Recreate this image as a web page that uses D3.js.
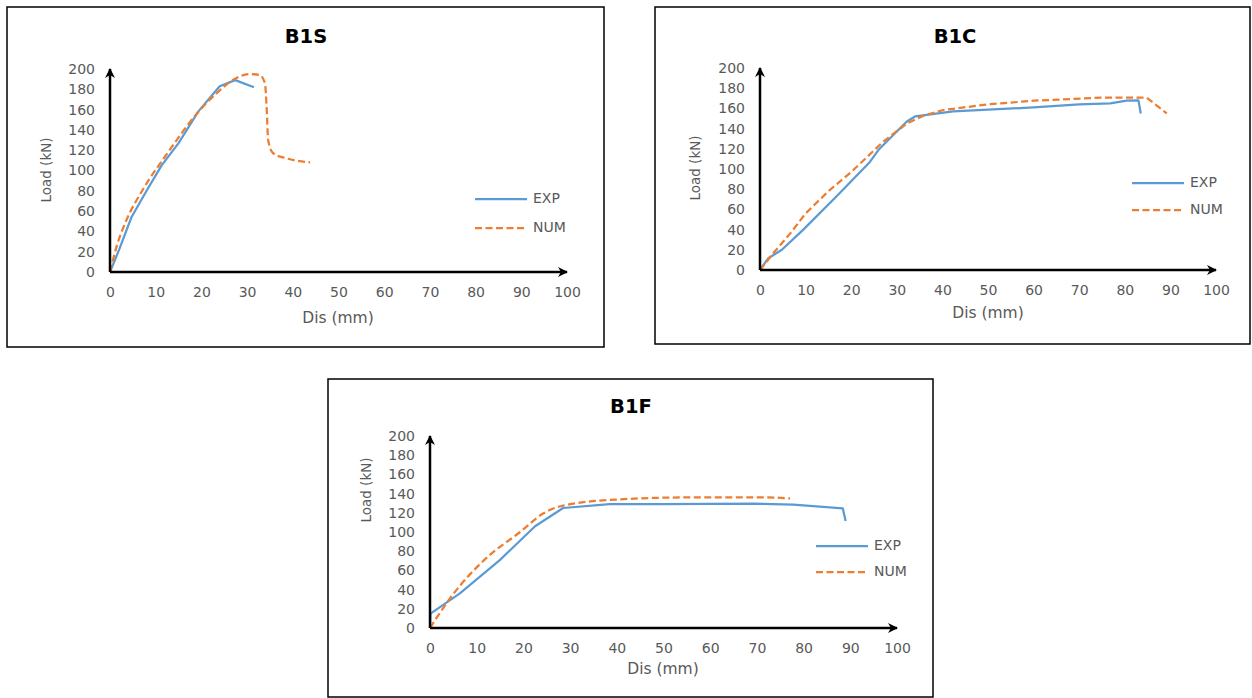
<!DOCTYPE html>
<html><head><meta charset="utf-8">
<script src="https://cdn.jsdelivr.net/npm/d3@7"></script>
<style>body{margin:0;background:#fff}svg{display:block}</style>
</head><body>
<script>
// ---- data ----
const xTicks = [0,10,20,30,40,50,60,70,80,90,100];
const yTicks = [0,20,40,60,80,100,120,140,160,180,200];
const seriesNames = ["EXP","NUM"];
const titles = ["B1S","B1C","B1F"];

const b1sExp = [[0,0],[2,22],[4.7,54],[8,80],[11.3,105],[15,127],[19.3,158],[24,183],[27.4,189],[31.5,182]];
const b1sNum = [[0,0],[1.5,26],[3.3,48],[7.3,82],[12.4,116],[19,156],[23.3,176],[27.4,190.5],[30.6,195],[32.8,194],[33.9,186],[34.3,160],[34.6,130],[35.7,117],[38.6,112],[43.8,108]];

const b1cExp = [[0,0],[1.8,11.6],[4.8,20],[9.5,40],[16.8,73],[24.1,107],[26,119],[32.2,147],[34,152],[42.4,157],[60,161],[70,164],[76.8,165],[80.4,167.6],[83,168],[83.5,155]];
const b1cNum = [[0,0],[2.9,16.5],[6.6,36],[10,56],[15,78],[20,97],[27,127],[32.2,145],[36,153],[40.2,158.4],[50,164],[60,167.6],[74.6,170.6],[84.8,170.6],[89.2,155]];

const b1fExp = [[0,0],[0.1,15],[6.4,36],[15,71],[22.5,106],[28.5,125],[38.5,129],[50,129],[69.2,129.5],[77.8,128.5],[88.4,124.5],[89,111.5]];
const b1fNum = [[0,0],[4.3,31],[12.1,73],[19.3,100],[24.3,119.5],[28.5,127.5],[40.7,134],[55,136],[72,136],[77.1,135]];

const panelData = [[b1sExp,b1sNum],[b1cExp,b1cNum],[b1fExp,b1fNum]];

// ---- layout ----
const layout = [
  {box:[7,7,604,347], x0:110, x1:567, y0:272, y1:69, tx:306, ty:37, lx:475, ly:199, lg:29, ylx:47, yly:170, dx:338, dy:318, smooth:true},
  {box:[655,7,1250,344], x0:760, x1:1216, y0:270, y1:68, tx:955, ty:37, lx:1132, ly:183, lg:27, ylx:696, yly:168, dx:988, dy:313, smooth:false},
  {box:[328,379,933,697], x0:430, x1:897, y0:628, y1:436, tx:631, ty:407, lx:816, ly:546, lg:26, ylx:367, yly:490, dx:663, dy:669, smooth:true}
];
const colors = ["#5B9BD5","#ED7D31"];
const textColor = "#595959";
const font = "'DejaVu Sans', sans-serif";

const svg = d3.select("body").append("svg").attr("width",1252).attr("height",698);
const defs = svg.append("defs");
defs.append("marker").attr("id","arrow").attr("viewBox","0 0 10 10")
  .attr("refX",9).attr("refY",5).attr("markerWidth",4).attr("markerHeight",4)
  .attr("markerUnits","strokeWidth").attr("orient","auto")
  .append("path").attr("d","M0,0 L10,5 L0,10 L3,5 Z").attr("fill","#000");

layout.forEach((L,i)=>{
  const g = svg.append("g");
  const [bx0,by0,bx1,by1] = L.box;
  g.append("rect").attr("x",bx0).attr("y",by0).attr("width",bx1-bx0).attr("height",by1-by0)
    .attr("fill","#fff").attr("stroke","#000").attr("stroke-width",1.5);
  const x = d3.scaleLinear().domain([0,100]).range([L.x0,L.x1]);
  const y = d3.scaleLinear().domain([0,200]).range([L.y0,L.y1]);

  g.append("text").attr("x",L.tx).attr("y",L.ty).attr("text-anchor","middle").attr("dominant-baseline","middle")
    .attr("font-family","'DejaVu Sans', sans-serif").attr("font-weight","bold").attr("font-size",19.5).attr("fill","#000")
    .text(titles[i]);

  const xa = g.append("g").attr("transform",`translate(0,${L.y0})`)
    .call(d3.axisBottom(x).tickValues(xTicks).tickSize(0).tickPadding(15));
  const ya = g.append("g").attr("transform",`translate(${L.x0},0)`)
    .call(d3.axisLeft(y).tickValues(yTicks).tickSize(0).tickPadding(15));
  [xa,ya].forEach(a=>{
    a.select(".domain").remove();
    a.selectAll("text").attr("font-family",font).attr("font-size",14).attr("fill",textColor);
  });

  panelData[i].forEach((s,k)=>{
    const gen = d3.line().x(d=>x(d[0])).y(d=>y(d[1]));
    if (k===1 && L.smooth) gen.curve(d3.curveMonotoneX);
    g.append("path").datum(s).attr("d",gen)
      .attr("fill","none").attr("stroke",colors[k]).attr("stroke-width",2.25)
      .attr("stroke-dasharray", k===1 ? "7,3.5" : null).attr("stroke-linejoin","round");
  });

  g.append("line").attr("x1",x(0)).attr("y1",y(0)).attr("x2",x(100)).attr("y2",y(0))
    .attr("stroke","#000").attr("stroke-width",2.5).attr("marker-end","url(#arrow)");
  g.append("line").attr("x1",x(0)).attr("y1",y(0)).attr("x2",x(0)).attr("y2",y(200))
    .attr("stroke","#000").attr("stroke-width",2.5).attr("marker-end","url(#arrow)");

  g.append("text").attr("x",L.dx).attr("y",L.dy).attr("text-anchor","middle").attr("dominant-baseline","middle")
    .attr("font-family",font).attr("font-size",15.5).attr("fill",textColor).text("Dis (mm)");
  g.append("text").attr("transform",`translate(${L.ylx},${L.yly}) rotate(-90)`).attr("text-anchor","middle")
    .attr("dominant-baseline","middle").attr("font-family",font).attr("font-size",13.5).attr("fill",textColor).text("Load (kN)");

  seriesNames.forEach((n,k)=>{
    const ly = L.ly + k*L.lg;
    g.append("line").attr("x1",L.lx).attr("x2",L.lx+52).attr("y1",ly).attr("y2",ly)
      .attr("stroke",colors[k]).attr("stroke-width",2.25).attr("stroke-dasharray",k===1?"7,3.5":null);
    g.append("text").attr("x",L.lx+58).attr("y",ly).attr("dominant-baseline","middle")
      .attr("font-family",font).attr("font-size",14).attr("fill",textColor).text(n);
  });
});
</script>
</body></html>
